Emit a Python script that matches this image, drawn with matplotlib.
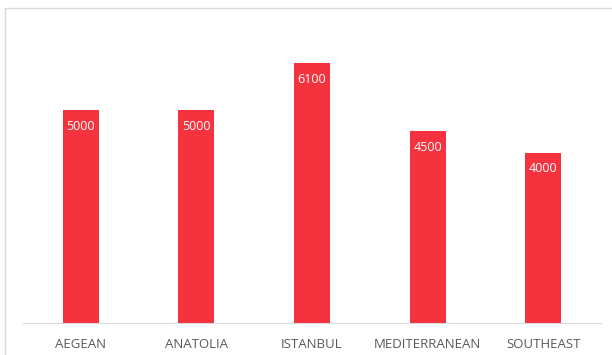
import matplotlib.pyplot as plt
from matplotlib.patches import Rectangle

regions = ['AEGEAN', 'ANATOLIA', 'ISTANBUL', 'MEDITERRANEAN', 'SOUTHEAST']
values = [5000, 5000, 6100, 4500, 4000]

plt.rcParams['font.family'] = ['Open Sans', 'DejaVu Sans']

fig = plt.figure(figsize=(6.12, 3.55), dpi=100)
ax = fig.add_axes([23 / 612, 32 / 355, 578 / 612, 298 / 355])

bars = ax.bar(range(len(regions)), values, width=0.31, color='#F5333F')
for b, v in zip(bars, values):
    ax.annotate(str(v), (b.get_x() + b.get_width() / 2, v), xytext=(0, -11.5),
                textcoords='offset points', ha='center', va='center',
                color='white', fontsize=9)

ax.set_xlim(-0.5, len(regions) - 0.5)
ax.set_ylim(0, 7000)
ax.set_xticks(range(len(regions)))
ax.set_xticklabels(regions, fontsize=9.5, color='#595959')
ax.tick_params(axis='x', length=0, pad=10.5)
ax.set_yticks([])
for s in ['top', 'left', 'right']:
    ax.spines[s].set_visible(False)
ax.spines['bottom'].set_color('#D9D9D9')

# chart frame (partly cropped on right and bottom)
fig.patches.append(Rectangle((5 / 612, -0.1), 1.2, (355 - 8) / 355 + 0.1,
                             transform=fig.transFigure, fill=False,
                             edgecolor='#D9D9D9', linewidth=1))

fig.savefig('out.png', dpi=100)
